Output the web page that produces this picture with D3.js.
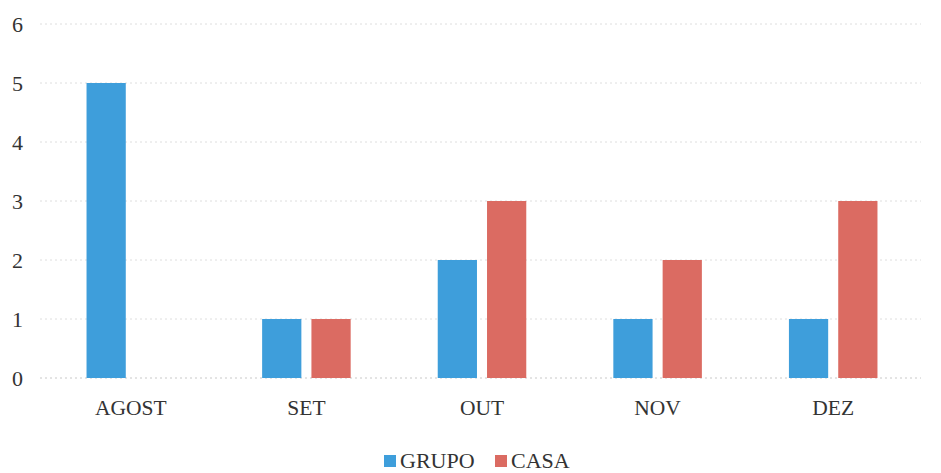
<!DOCTYPE html>
<html><head><meta charset="utf-8">
<script src="https://cdn.jsdelivr.net/npm/d3@7"></script>
<style>body{margin:0;background:#fff}svg{display:block}</style>
</head><body>
<svg id="c" width="941" height="473"></svg>
<script>
const categories = ["AGOST","SET","OUT","NOV","DEZ"];
const seriesNames = ["GRUPO","CASA"];
const grupo = [5,1,2,1,1];
const casa = [0,1,3,2,3];
const yTicks = [0,1,2,3,4,5,6];
const colors = {GRUPO:"#3e9edb", CASA:"#db6b62"};

const svg = d3.select("#c");
const font = "'Liberation Serif', 'DejaVu Serif', serif";
const x = d3.scaleBand().domain(categories).range([43,921]).padding(0);
const xs = d3.scaleBand().domain(seriesNames).range([0, x.bandwidth()]).paddingInner(0.204).paddingOuter(0.883);
const y = d3.scaleLinear().domain([0,6]).range([378,24]);

// gridlines
svg.append("g").selectAll("line").data(yTicks).join("line")
  .attr("x1",40).attr("x2",921)
  .attr("y1",d=>y(d)).attr("y2",d=>y(d))
  .attr("stroke",d=>d===0?"#c8c8c8":"#dedede").attr("stroke-width",1)
  .attr("stroke-dasharray","2,3");

// y labels
const yAxis = d3.axisLeft(y).tickValues(yTicks).tickFormat(d3.format("d")).tickSize(0).tickPadding(0);
const yg = svg.append("g").attr("transform","translate(23,0)").call(yAxis);
yg.select(".domain").remove();
yg.selectAll("text").attr("font-family",font).attr("font-size",22).attr("fill","#333");

// bars
const rows = categories.map((c,i)=>({cat:c, vals:[{s:"GRUPO",v:grupo[i]},{s:"CASA",v:casa[i]}]}));
const g = svg.append("g").selectAll("g").data(rows).join("g")
  .attr("transform",d=>`translate(${x(d.cat)},0)`);
g.selectAll("rect").data(d=>d.vals.filter(e=>e.v>0)).join("rect")
  .attr("x",d=>xs(d.s)).attr("width",xs.bandwidth())
  .attr("y",d=>y(d.v)).attr("height",d=>y(0)-y(d.v))
  .attr("fill",d=>colors[d.s]);

// x labels
const xAxis = d3.axisBottom(x).tickSize(0).tickPadding(0);
const xg = svg.append("g").attr("transform","translate(0,400)").call(xAxis);
xg.select(".domain").remove();
xg.selectAll("text").attr("font-family",font).attr("font-size",21.5).attr("fill","#333").attr("dy","0.71em");

// legend
const legendItems = [{s:"GRUPO",x:384},{s:"CASA",x:495}];
const lg = svg.append("g").selectAll("g").data(legendItems).join("g")
  .attr("transform",d=>`translate(${d.x},455)`);
lg.append("rect").attr("width",12).attr("height",12).attr("fill",d=>colors[d.s]);
lg.append("text").attr("x",16).attr("y",12.5).text(d=>d.s)
  .attr("font-family",font).attr("font-size",22).attr("fill","#333");
</script>
</body></html>
